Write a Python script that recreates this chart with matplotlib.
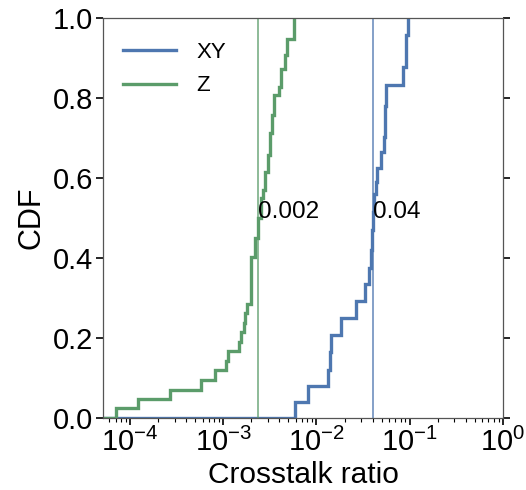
import numpy as np
import matplotlib
matplotlib.use("Agg")
import matplotlib.pyplot as plt
from matplotlib.ticker import LogLocator, FixedLocator, LogFormatterSciNotation

plt.rcParams['font.family'] = ['Liberation Sans', 'DejaVu Sans']
plt.rcParams['mathtext.fontset'] = 'custom'
plt.rcParams['mathtext.rm'] = 'Liberation Sans'
plt.rcParams['mathtext.it'] = 'Liberation Sans:italic'
plt.rcParams['mathtext.bf'] = 'Liberation Sans:bold'

# --- data ---
series_names = ["XY", "Z"]

xy_x = [5.94e-3, 8.06e-3, 1.336e-2, 1.38e-2, 1.416e-2, 1.811e-2, 2.673e-2,
        3.283e-2, 3.648e-2, 3.81e-2, 3.95e-2, 4.06e-2, 4.15e-2, 4.31e-2,
        4.50e-2, 4.97e-2, 5.30e-2, 5.45e-2, 5.60e-2, 8.47e-2, 9.23e-2, 9.69e-2]
xy_cdf = [0.040, 0.080, 0.120, 0.165, 0.2075, 0.250, 0.293,
          0.334, 0.374, 0.420, 0.470, 0.516, 0.560, 0.590,
          0.625, 0.666, 0.703, 0.780, 0.8325, 0.878, 0.9575, 1.000]

z_x = [7.07e-5, 1.23e-4, 2.69e-4, 5.80e-4, 8.05e-4, 1.07e-3, 1.13e-3,
       1.48e-3, 1.55e-3, 1.65e-3, 1.73e-3, 1.80e-3, 2.00e-3, 2.21e-3,
       2.38e-3, 2.57e-3, 2.68e-3, 2.83e-3, 2.99e-3, 3.15e-3, 3.34e-3,
       3.48e-3, 3.94e-3, 4.21e-3, 4.56e-3, 4.84e-3, 5.70e-3]
z_cdf = [0.024, 0.048, 0.071, 0.095, 0.119, 0.143, 0.167,
         0.190, 0.214, 0.238, 0.262, 0.286, 0.403, 0.45,
         0.50, 0.549, 0.570, 0.616, 0.657, 0.712, 0.757,
         0.807, 0.828, 0.874, 0.907, 0.949, 1.000]

medians = [0.0400, 0.00234]
median_labels = ["0.04", "0.002"]

x_major_ticks = [1e-4, 1e-3, 1e-2, 1e-1, 1e0]
y_ticks = [0.0, 0.2, 0.4, 0.6, 0.8, 1.0]

colors = ["#4e77b0", "#5b9c6a"]

xmin, xmax = 5.13e-5, 1.0

fig = plt.figure(figsize=(5.26, 4.90), dpi=100)
ax = fig.add_axes([0.196, 0.147, 0.760, 0.816])

for xs, ys, name, c in zip([xy_x, z_x], [xy_cdf, z_cdf], series_names, colors):
    xs_full = np.concatenate([[xmin], xs])
    ys_full = np.concatenate([[0.0], ys])
    ax.step(xs_full, ys_full, where='post', color=c, lw=2.4, label=name,
            solid_joinstyle='miter')

for m, lab, c in zip(medians, median_labels, colors):
    ax.axvline(m, color=c, lw=1.3, alpha=0.75)
    ax.text(m, 0.5, lab, ha='left', va='baseline', fontsize=17.5, color='black')

ax.set_xscale('log')
ax.set_xlim(xmin, xmax)
ax.set_ylim(0, 1.0)
ax.xaxis.set_major_locator(FixedLocator(x_major_ticks))
ax.xaxis.set_major_formatter(LogFormatterSciNotation())
ax.xaxis.set_minor_locator(LogLocator(base=10, subs=np.arange(2, 10), numticks=30))
ax.set_yticks(y_ticks)
ax.set_xlabel("Crosstalk ratio", fontsize=21.5, labelpad=3)
ax.set_ylabel("CDF", fontsize=22, labelpad=5)
ax.tick_params(axis='both', which='major', labelsize=21, direction='out',
               length=5, width=1.2, color='black', pad=2)
ax.tick_params(axis='x', which='minor', length=3, width=0.8)
ax.tick_params(axis='y', right=True)
for s in ax.spines.values():
    s.set_color('#555555')
    s.set_linewidth(0.9)

leg = ax.legend(loc='upper left', frameon=False, fontsize=16, handlelength=2.4,
                handletextpad=0.9, labelspacing=0.55,
                bbox_to_anchor=(0.0, 0.99))
for line in leg.get_lines():
    line.set_linewidth(2.4)

fig.savefig("out.png", dpi=100)
